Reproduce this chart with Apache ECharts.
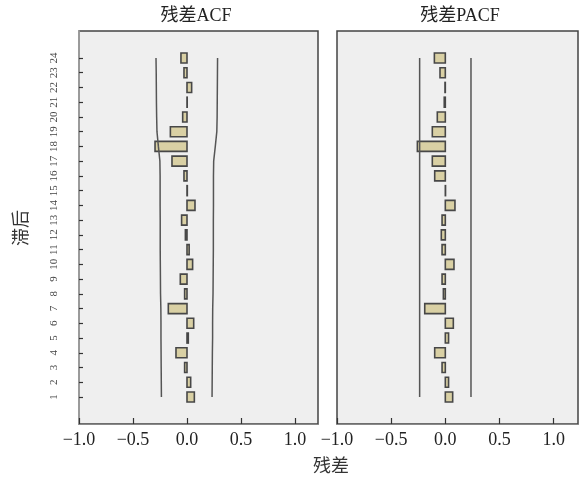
<!DOCTYPE html>
<html>
<head>
<meta charset="utf-8">
<script src="https://cdn.jsdelivr.net/npm/echarts@6/dist/echarts.min.js"></script>
<style>
  html, body { margin: 0; padding: 0; background: #fff; }
  #chart { width: 587px; height: 487px; }
</style>
</head>
<body>
<div id="chart"></div>
<script>
// lags (1..24) and residual autocorrelations
const lags = [1, 2, 3, 4, 5, 6, 7, 8, 9, 10, 11, 12, 13, 14, 15, 16, 17, 18, 19, 20, 21, 22, 23, 24];

const acfValues = [0.068, 0.034, -0.022, -0.102, 0.012, 0.062, -0.173, -0.022, -0.062, 0.052, 0.02, -0.015,
    -0.05, 0.074, 0.003, -0.028, -0.139, -0.296, -0.154, -0.04, 0.002, 0.043, -0.028, -0.056];

const pacfValues = [0.068, 0.03, -0.03, -0.098, 0.03, 0.074, -0.19, -0.018, -0.03, 0.08, -0.03, -0.037,
    -0.03, 0.089, 0.002, -0.098, -0.12, -0.258, -0.12, -0.074, -0.01, -0.003, -0.049, -0.101];

// confidence limits
const acfUpper = [0.232, 0.233, 0.234, 0.235, 0.237, 0.237, 0.238, 0.241, 0.242, 0.243, 0.244, 0.244,
    0.244, 0.245, 0.245, 0.245, 0.247, 0.262, 0.276, 0.279, 0.280, 0.281, 0.282, 0.283];
const acfLower = [-0.237, -0.238, -0.239, -0.240, -0.241, -0.241, -0.242, -0.245, -0.246, -0.247, -0.248, -0.248,
    -0.248, -0.249, -0.249, -0.249, -0.251, -0.265, -0.278, -0.281, -0.283, -0.284, -0.285, -0.287];
const pacfUpper = 0.237;
const pacfLower = -0.237;

const xTicks = [-1.0, -0.5, 0.0, 0.5, 1.0];

const serif = "'Liberation Serif', 'DejaVu Serif', 'Noto Sans CJK SC', serif";
const barFill = '#d9d0a4';
const barBorder = '#474747';
const limitColor = '#555';

const chart = echarts.init(document.getElementById('chart'));

// horizontal bar drawn from 0 to value at each lag
function renderBar(params, api) {
    const v = api.value(0);
    const lag = api.value(1);
    const p0 = api.coord([0, lag]);
    const p1 = api.coord([v, lag]);
    const h = 10;
    return {
        type: 'rect',
        shape: {
            x: Math.min(p0[0], p1[0]),
            y: p0[1] - h / 2,
            width: Math.abs(p1[0] - p0[0]),
            height: h
        },
        style: { fill: barFill, stroke: barBorder, lineWidth: 1.6 }
    };
}

function xAxisCfg(gridIndex, max) {
    return {
        type: 'value',
        gridIndex: gridIndex,
        min: -1,
        max: max,
        splitLine: { show: false },
        axisLine: { show: true, onZero: false, lineStyle: { color: '#888', width: 1.2 } },
        axisTick: {
            show: true, inside: true, length: 6,
            customValues: xTicks,
            lineStyle: { color: '#333', width: 1.2 }
        },
        axisLabel: {
            customValues: xTicks,
            margin: 7,
            fontFamily: serif,
            fontSize: 18,
            color: '#222',
            formatter: v => (v < 0 ? '\u2212' : '') + Math.abs(v).toFixed(1)
        }
    };
}

function yAxisCfg(gridIndex, showLabels) {
    return {
        type: 'value',
        gridIndex: gridIndex,
        min: -0.83,
        max: 25.83,
        splitLine: { show: false },
        axisLine: { show: showLabels, onZero: false, lineStyle: { color: '#aaa', width: 1.5 } },
        axisTick: {
            show: showLabels, inside: true, length: 4,
            customValues: lags,
            lineStyle: { color: '#333', width: 1.2 }
        },
        axisLabel: {
            show: showLabels,
            customValues: lags,
            rotate: 90,
            margin: 19,
            fontFamily: serif,
            fontSize: 11,
            color: '#444'
        }
    };
}

const option = {
    backgroundColor: '#fff',
    animation: false,
    grid: [
        { left: 79, top: 31, width: 239, height: 393, show: true,
          backgroundColor: '#efefef', borderColor: '#444', borderWidth: 1.5 },
        { left: 337, top: 31, width: 241, height: 393, show: true,
          backgroundColor: '#efefef', borderColor: '#444', borderWidth: 1.5 }
    ],
    xAxis: [xAxisCfg(0, 1.213), xAxisCfg(1, 1.225)],
    yAxis: [yAxisCfg(0, true), yAxisCfg(1, false)],
    graphic: [
        { type: 'text', x: 196, y: 16,
          style: { text: '残差ACF', font: '18px ' + serif, fill: '#222', align: 'center', verticalAlign: 'middle' } },
        { type: 'text', x: 460, y: 16,
          style: { text: '残差PACF', font: '18px ' + serif, fill: '#222', align: 'center', verticalAlign: 'middle' } },
        { type: 'text', x: 22, y: 228, rotation: Math.PI / 2,
          style: { text: '滞后', font: '18px ' + serif, fill: '#333', align: 'center', verticalAlign: 'middle' } },
        { type: 'text', x: 331, y: 467,
          style: { text: '残差', font: '18px ' + serif, fill: '#333', align: 'center', verticalAlign: 'middle' } }
    ],
    series: [
        {
            type: 'custom', name: 'ACF', xAxisIndex: 0, yAxisIndex: 0,
            renderItem: renderBar,
            encode: { x: 0, y: 1 },
            data: lags.map((lag, i) => [acfValues[i], lag]),
            z: 3
        },
        {
            type: 'custom', name: 'PACF', xAxisIndex: 1, yAxisIndex: 1,
            renderItem: renderBar,
            encode: { x: 0, y: 1 },
            data: lags.map((lag, i) => [pacfValues[i], lag]),
            z: 3
        },
        {
            type: 'line', xAxisIndex: 0, yAxisIndex: 0, showSymbol: false, symbol: 'none',
            lineStyle: { color: limitColor, width: 1.5 },
            data: lags.map((lag, i) => [acfUpper[i], lag])
        },
        {
            type: 'line', xAxisIndex: 0, yAxisIndex: 0, showSymbol: false, symbol: 'none',
            lineStyle: { color: limitColor, width: 1.5 },
            data: lags.map((lag, i) => [acfLower[i], lag])
        },
        {
            type: 'line', xAxisIndex: 1, yAxisIndex: 1, showSymbol: false, symbol: 'none',
            lineStyle: { color: limitColor, width: 1.5 },
            data: [[pacfUpper, lags[0]], [pacfUpper, lags[lags.length - 1]]]
        },
        {
            type: 'line', xAxisIndex: 1, yAxisIndex: 1, showSymbol: false, symbol: 'none',
            lineStyle: { color: limitColor, width: 1.5 },
            data: [[pacfLower, lags[0]], [pacfLower, lags[lags.length - 1]]]
        }
    ]
};

chart.setOption(option);
</script>
</body>
</html>
